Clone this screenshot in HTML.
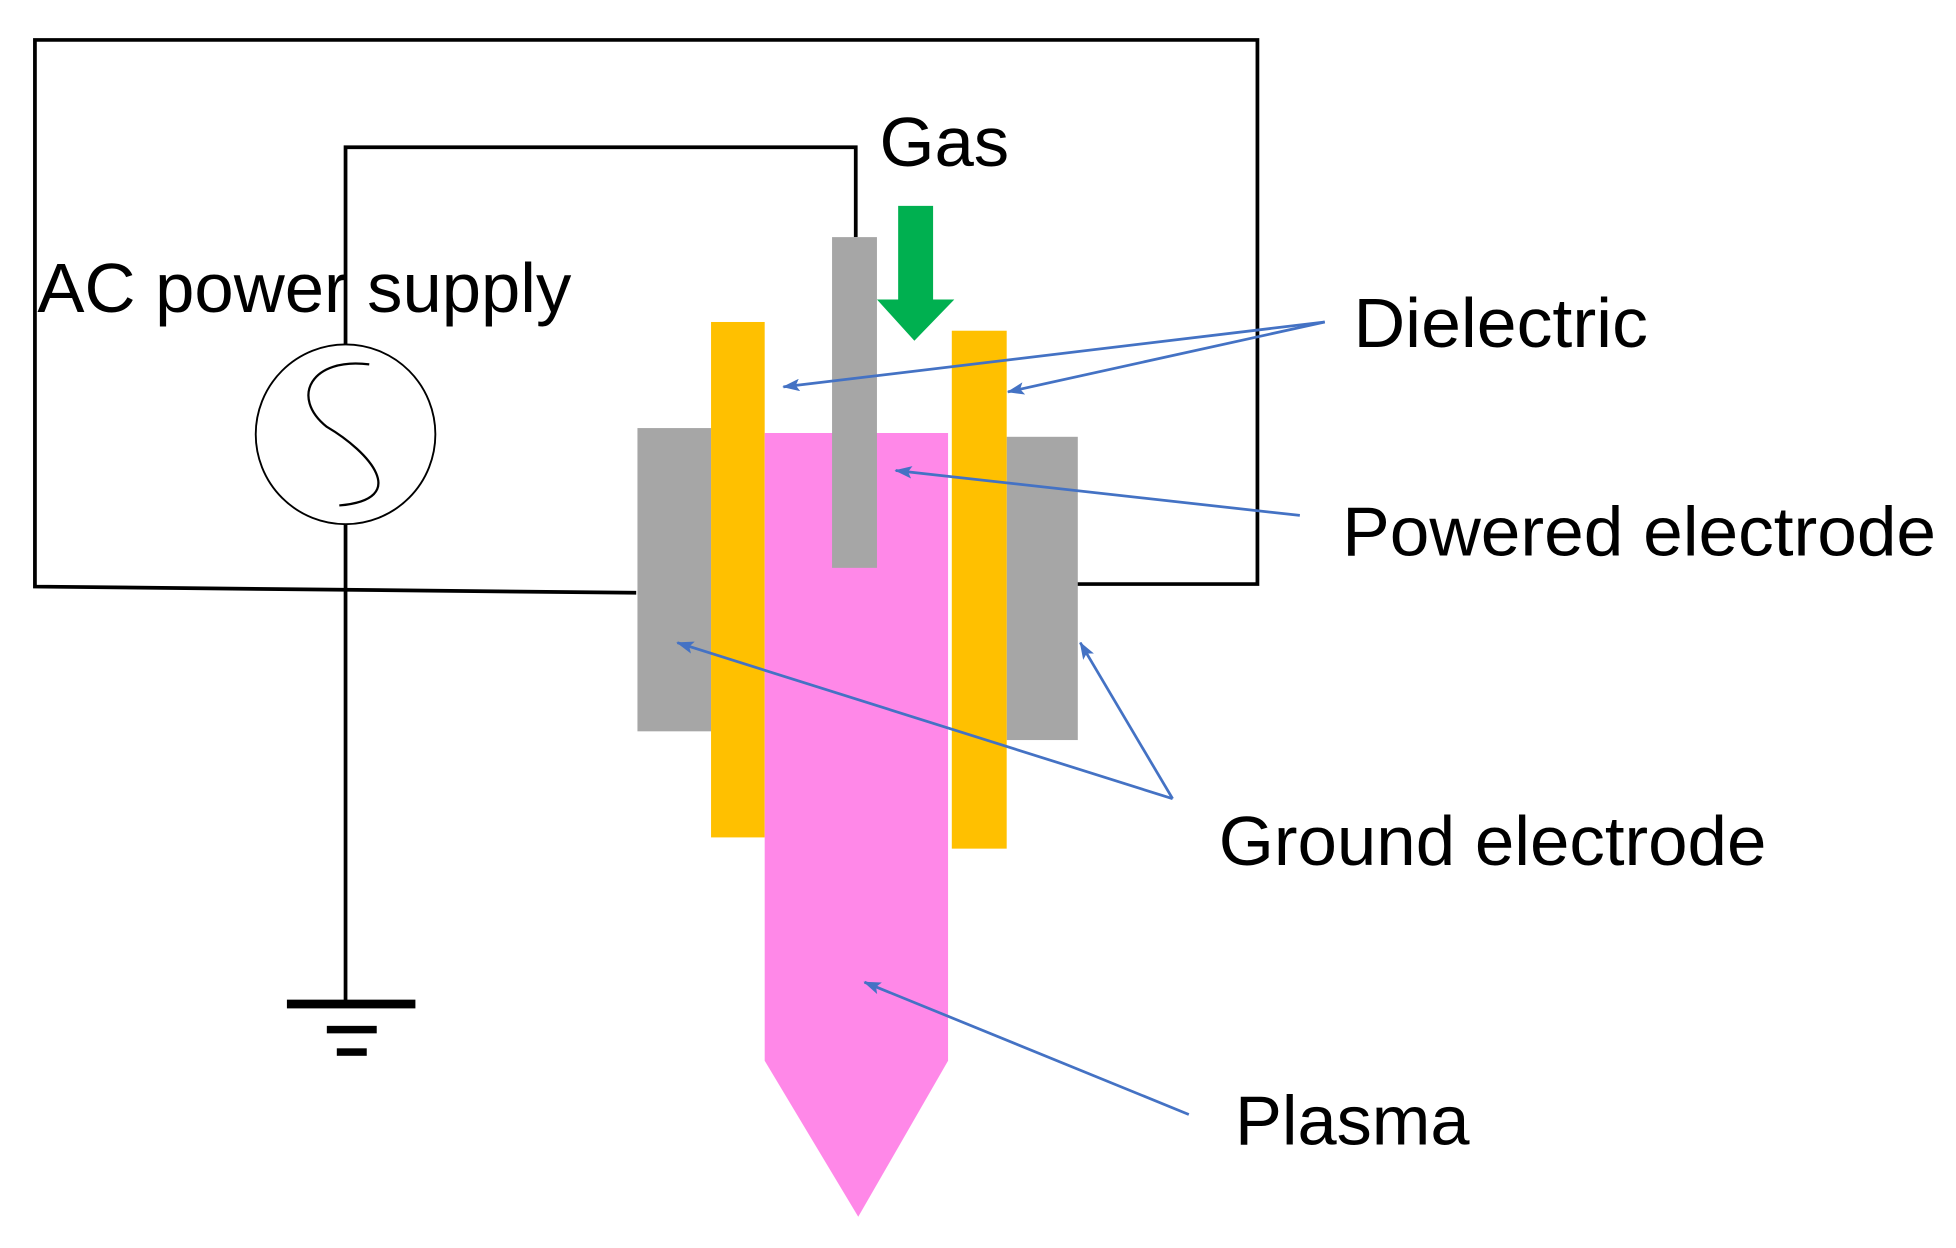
<!DOCTYPE html>
<html><head><meta charset="utf-8"><style>html,body{margin:0;padding:0;background:#fff}svg{display:block}</style></head>
<body>
<svg width="1956" height="1248" viewBox="0 0 1568 1000" preserveAspectRatio="none" xmlns="http://www.w3.org/2000/svg">
<defs>
<marker id="a" markerWidth="14" markerHeight="10" refX="13" refY="5" orient="auto" markerUnits="userSpaceOnUse">
<path d="M0,0 L14,5 L0,10 L3,5 z" fill="#4472C4"/></marker>
</defs>
<g fill="none" stroke="#000" stroke-width="3">
<polyline points="510,475 28,470 28,32 1008,32 1008,468 862,468"/>
<polyline points="277,276 277,118 686,118 686,190"/>
<line x1="277" y1="420" x2="277" y2="805"/>
</g>
<ellipse cx="277" cy="348" rx="72" ry="72" fill="none" stroke="#000" stroke-width="1.5"/>
<path d="M296,292 C250,286 232,318 262,342 C296,362 330,400 272,405" fill="none" stroke="#000" stroke-width="1.8"/>
<rect x="230" y="801" width="103" height="7" fill="#000"/>
<rect x="262" y="822" width="40" height="6" fill="#000"/>
<rect x="270" y="840" width="24" height="6" fill="#000"/>
<rect x="511" y="343" width="59" height="243" fill="#A6A6A6"/>
<rect x="807" y="350" width="57" height="243" fill="#A6A6A6"/>
<rect x="570" y="258" width="43" height="413" fill="#FFC000"/>
<rect x="763" y="265" width="44" height="415" fill="#FFC000"/>
<polygon points="613,347 760,347 760,850 688,975 613,850" fill="#FF88E8"/>
<rect x="667" y="190" width="36" height="265" fill="#A6A6A6"/>
<polygon points="720,165 748,165 748,240 765,240 733,273 703,240 720,240" fill="#00B050"/>
<g stroke="#4472C4" stroke-width="2.2" marker-end="url(#a)">
<line x1="1062" y1="258" x2="628" y2="310"/>
<line x1="1062" y1="258" x2="808" y2="314"/>
<line x1="1042" y1="413" x2="718" y2="377"/>
<line x1="940" y1="640" x2="543" y2="515"/>
<line x1="940" y1="640" x2="866" y2="515"/>
<line x1="953" y1="893" x2="693" y2="787"/>
</g>
<g font-family="Liberation Sans, Arial, sans-serif" font-size="56" fill="#000">
<text x="705" y="133" textLength="104" lengthAdjust="spacingAndGlyphs">Gas</text>
<text x="30" y="250" textLength="428" lengthAdjust="spacingAndGlyphs">AC power supply</text>
<text x="1085" y="278" textLength="236" lengthAdjust="spacingAndGlyphs">Dielectric</text>
<text x="1076" y="445" textLength="476" lengthAdjust="spacingAndGlyphs">Powered electrode</text>
<text x="977" y="693" textLength="439" lengthAdjust="spacingAndGlyphs">Ground electrode</text>
<text x="990" y="917" textLength="188" lengthAdjust="spacingAndGlyphs">Plasma</text>
</g>
</svg>
</body></html>
